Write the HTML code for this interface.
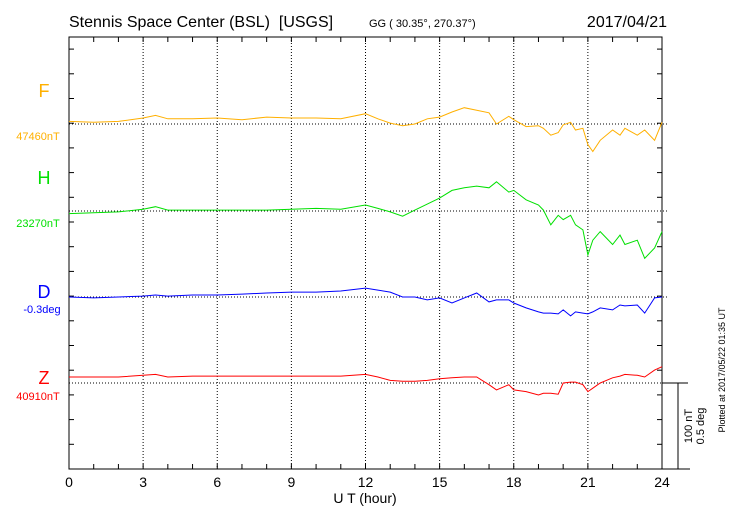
<!DOCTYPE html>
<html><head><meta charset="utf-8"><style>
body{margin:0;background:#fff;}
svg{display:block;font-family:"Liberation Sans",sans-serif;}
text{white-space:pre;}
</style></head><body>
<svg id="c" width="730" height="520" xmlns="http://www.w3.org/2000/svg">
<text x="69" y="27" font-size="16" xml:space="preserve">Stennis Space Center (BSL)  [USGS]</text>
<text x="369" y="27" font-size="11">GG ( 30.35°, 270.37°)</text>
<text x="667" y="27" font-size="16" text-anchor="end">2017/04/21</text>
<text x="365" y="503" font-size="14" text-anchor="middle">U T (hour)</text>
<text x="44" y="97" font-size="18" fill="#ffb000" text-anchor="middle">F</text>
<text x="38" y="140" font-size="11" fill="#ffb000" text-anchor="middle">47460nT</text>
<text x="44" y="184" font-size="18" fill="#00e000" text-anchor="middle">H</text>
<text x="38" y="227" font-size="11" fill="#00e000" text-anchor="middle">23270nT</text>
<text x="44" y="298" font-size="18" fill="#0000ff" text-anchor="middle">D</text>
<text x="42" y="313" font-size="11" fill="#0000ff" text-anchor="middle">-0.3deg</text>
<text x="44" y="384" font-size="18" fill="#ff0000" text-anchor="middle">Z</text>
<text x="38" y="400" font-size="11" fill="#ff0000" text-anchor="middle">40910nT</text>
<text transform="translate(692,426) rotate(-90)" font-size="11" text-anchor="middle">100 nT</text>
<text transform="translate(704,426) rotate(-90)" font-size="11" text-anchor="middle">0.5 deg</text>
<text transform="translate(725,370) rotate(-90)" font-size="9" text-anchor="middle">Plotted at 2017/05/22 01:35 UT</text>
</svg>
<script>
const hours=[0,1,2,3,3.5,4,5,6,7,8,9,10,11,12,12.5,13,13.5,14,14.5,15,15.5,16,16.5,17,17.3,17.8,18,18.5,19,19.2,19.5,19.8,20,20.3,20.5,20.8,21,21.2,21.5,22,22.3,22.5,23,23.3,23.7,24];
const fVals=[3,2,3,7,10,6,6,7,5,8,7,7,6,12,6,1,-2,0,6,8,14,19,16,13,0,9,5,-3,-2,-5,-13,-10,-1,2,-7,-5,-24,-32,-19,-7,-13,-5,-13,-7,-19,2];
const hVals=[-3,-2,-1,2,5,1,1,1,1,1,2,3,2,7,3,-1,-6,1,8,15,24,27,29,27,34,22,24,13,7,1,-16,-5,-10,-5,-16,-22,-51,-34,-24,-39,-28,-39,-34,-55,-43,-24];
const dVals=[0,-0.3,0,0.3,0.7,0.3,0.7,0.7,1,1.4,1.7,1.7,2.1,3.1,2.4,1.7,0,0,-1,-0.3,-2.1,-0.3,1.4,-1.7,-1,-1,-2.1,-3.8,-5.2,-5.6,-5.6,-5.9,-4.5,-6.6,-5.2,-5.6,-5.9,-5.2,-3.8,-4.5,-2.8,-3.1,-2.8,-5.6,-0.3,0];
const zVals=[7,7,7,9,10,7,8,8,8,8,8,8,8,10,7,3,2,2,3,5,6,7,7,-2,-8,-2,-8,-10,-14,-12,-12,-13,0,1,1,-2,-10,-6,0,6,8,10,9,7,15,19];
const xTicks=[0,3,6,9,12,15,18,21,24];
const NS="http://www.w3.org/2000/svg",svg=document.getElementById('c');
const L=69,R=662,T=37,B=469;
const xs=h=>L+(R-L)*h/24;
const ntScale=86/100, minScale=86/30;
function el(t,a){const e=document.createElementNS(NS,t);for(const k in a)e.setAttribute(k,a[k]);svg.appendChild(e);return e;}
let e=el('rect',{x:L,y:T,width:R-L,height:B-T,fill:'none',stroke:'#000','stroke-width':1});


for(let h=1;h<24;h++){
 e=el('line',{x1:xs(h),x2:xs(h),y1:T,y2:T+5,stroke:'#000'});
 
 
 e=el('line',{x1:xs(h),x2:xs(h),y1:B,y2:B-5,stroke:'#000'});
 
 
}
for(let y=B-24.7;y>T+5;y-=24.7){
 e=el('line',{x1:L,x2:L+5,y1:y,y2:y,stroke:'#000'});
 
 
 e=el('line',{x1:R,x2:R-5,y1:y,y2:y,stroke:'#000'});
 
 
}
xTicks.forEach(h=>{
 if(h>0&&h<24){e=el('line',{x1:xs(h),x2:xs(h),y1:T,y2:B,stroke:'#000','stroke-dasharray':'1,2'});
 
 }
 e=el('text',{x:xs(h),y:487,'font-size':14,'text-anchor':'middle'});e.textContent=h;
 
 
});
const series=[[fVals,124,ntScale,'#ffb000','f-series'],[hVals,211,ntScale,'#00e000','h-series'],[dVals,297,minScale,'#0000ff','d-series'],[zVals,383,ntScale,'#ff0000','z-series']];
series.forEach(([v,base,sc,col,name])=>{
 e=el('line',{x1:L,x2:R+6,y1:base,y2:base,stroke:'#000','stroke-dasharray':'1,2'});
 
 
 const pts=hours.map((h,i)=>xs(h).toFixed(1)+','+(base-v[i]*sc).toFixed(1)).join(' ');
 e=el('polyline',{points:pts,fill:'none',stroke:col,'stroke-width':1});
 
 
});
e=el('path',{d:`M${R} 383H688M${R} ${B}H690M678 383V${B}`,stroke:'#000',fill:'none'});


</script>
</body></html>
